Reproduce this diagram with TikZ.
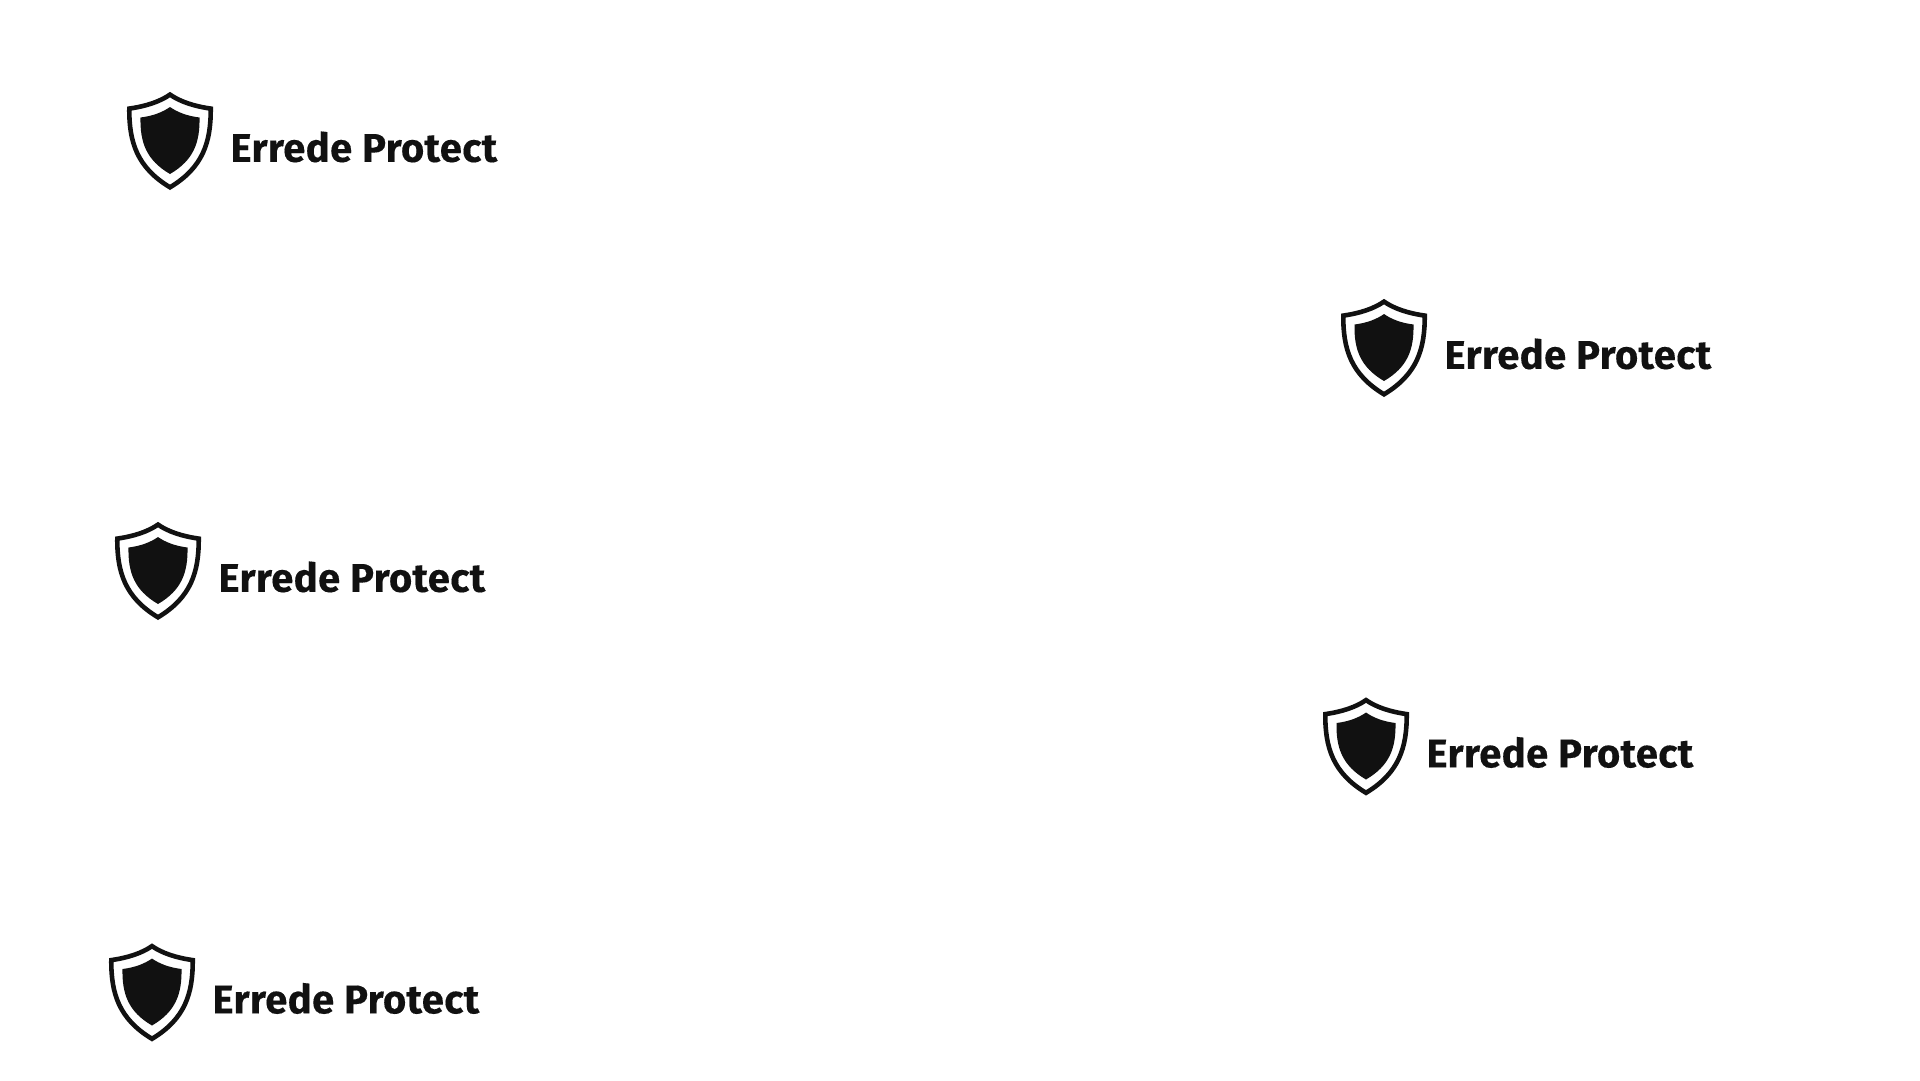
\documentclass[tikz,border=0pt]{standalone}
\usepackage{fontspec}
\setmainfont{Fira Sans}[UprightFont=* Bold,LetterSpace=1.0,FakeBold=0.25]
\definecolor{ink}{HTML}{111111}
\tikzset{x=1pt,y=-1pt,
  wordmark/.style={anchor=base west,inner sep=0pt,outer sep=0pt,text=ink,font=\fontsize{40}{40}\selectfont},
  shieldline/.style={draw=ink,line width=4.6pt,fill=white,line join=miter},
  shieldcore/.style={fill=ink,draw=none},
  pics/errede/.style={code={
    \path[shieldline] (0,2.6) .. controls (-10,9.6) and (-24,14.2) .. (-40.7,16.6)
       .. controls (-41,50) and (-33,75.5) .. (0,95.3)
       .. controls (33,75.5) and (41,50) .. (40.7,16.6)
       .. controls (24,14.2) and (10,9.6) .. (0,2.6) -- cycle;
    \path[shieldcore] (0,15) .. controls (-7,20) and (-17,24) .. (-29.5,25.5)
       .. controls (-30,50) and (-24,68) .. (0,82)
       .. controls (24,68) and (30,50) .. (29.5,25.5)
       .. controls (17,24) and (7,20) .. (0,15) -- cycle;
    \node[wordmark] (#1) at (60.5,69.8) {Errede Protect};
  }}
}
\begin{document}
\begin{tikzpicture}
\useasboundingbox (0,0) rectangle (1920,1080);
\pic at (170,92) {errede=a};
\pic at (1384,299) {errede=b};
\pic at (158,522) {errede=c};
\pic at (1366,697.5) {errede=d};
\pic at (152,943.5) {errede=e};
\end{tikzpicture}
\end{document}
